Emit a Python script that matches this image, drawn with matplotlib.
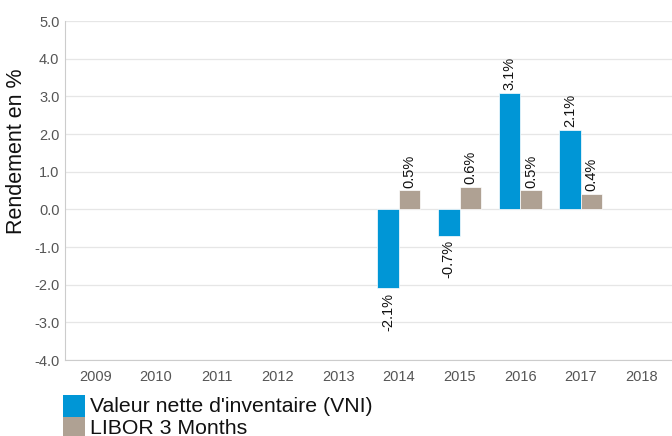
import numpy as np
import matplotlib
import matplotlib.pyplot as plt
from matplotlib.patches import Rectangle

matplotlib.use('Agg')
plt.rcParams['font.family'] = ['Liberation Sans', 'DejaVu Sans']

years = ['2009', '2010', '2011', '2012', '2013', '2014', '2015', '2016', '2017', '2018']
vni = [None, None, None, None, None, -2.1, -0.7, 3.1, 2.1, None]
libor = [None, None, None, None, None, 0.5, 0.6, 0.5, 0.4, None]
series_names = ["Valeur nette d'inventaire (VNI)", "LIBOR 3 Months"]
colors = ['#0096d6', '#afa193']

W, H = 672, 436
fig = plt.figure(figsize=(W / 100, H / 100), dpi=100)
ax = fig.add_axes([65 / W, (H - 360) / H, 1 - 65 / W, 339 / H])

x = np.arange(len(years))
w = 0.355
for vals, off, col in [(vni, -w / 2, colors[0]), (libor, w / 2, colors[1])]:
    for xi, v in zip(x, vals):
        if v is None:
            continue
        ax.bar(xi + off, v, width=w, color=col, edgecolor='white', linewidth=0.5, zorder=3)
        if v >= 0:
            ax.annotate(f'{v:.1f}%', (xi + off, v), xytext=(0, 2), textcoords='offset points',
                        rotation=90, ha='center', va='bottom', fontsize=10.5, color='#111111')
        else:
            ax.annotate(f'{v:.1f}%', (xi + off, v), xytext=(0, -3), textcoords='offset points',
                        rotation=90, ha='center', va='top', fontsize=10.5, color='#111111')

ax.set_xlim(-0.5, len(years) - 0.5)
ax.set_ylim(-4, 5)
yt = np.arange(-4, 5.1, 1)
ax.set_yticks(yt)
ax.set_yticklabels([f'{t:.1f}' for t in yt])
ax.set_xticks(x)
ax.set_xticklabels(years)
ax.tick_params(axis='y', length=0, labelsize=10.5, labelcolor='#555555', pad=4)
ax.tick_params(axis='x', length=0, labelsize=10.5, labelcolor='#555555', pad=7)
ax.grid(axis='y', color='#e6e6e6', linewidth=0.9, zorder=0)
for s in ['top', 'right']:
    ax.spines[s].set_visible(False)
for s in ['left', 'bottom']:
    ax.spines[s].set_color('#cccccc')

fig.text(16.5 / W, (H - 151) / H, 'Rendement en %', rotation=90, ha='center', va='center',
         fontsize=15.5, color='#111111')

# legend drawn by hand below the plot
for i, (name, col) in enumerate(zip(series_names, colors)):
    top = 395 + i * 22
    fig.patches.append(Rectangle((63 / W, (H - top - 22) / H), 22 / W, 22 / H,
                                 transform=fig.transFigure, facecolor=col, edgecolor='none'))
    fig.text(90 / W, (H - top - 11) / H, name, ha='left', va='center',
             fontsize=15.3, color='#111111')

fig.savefig('out.png', dpi=100)
